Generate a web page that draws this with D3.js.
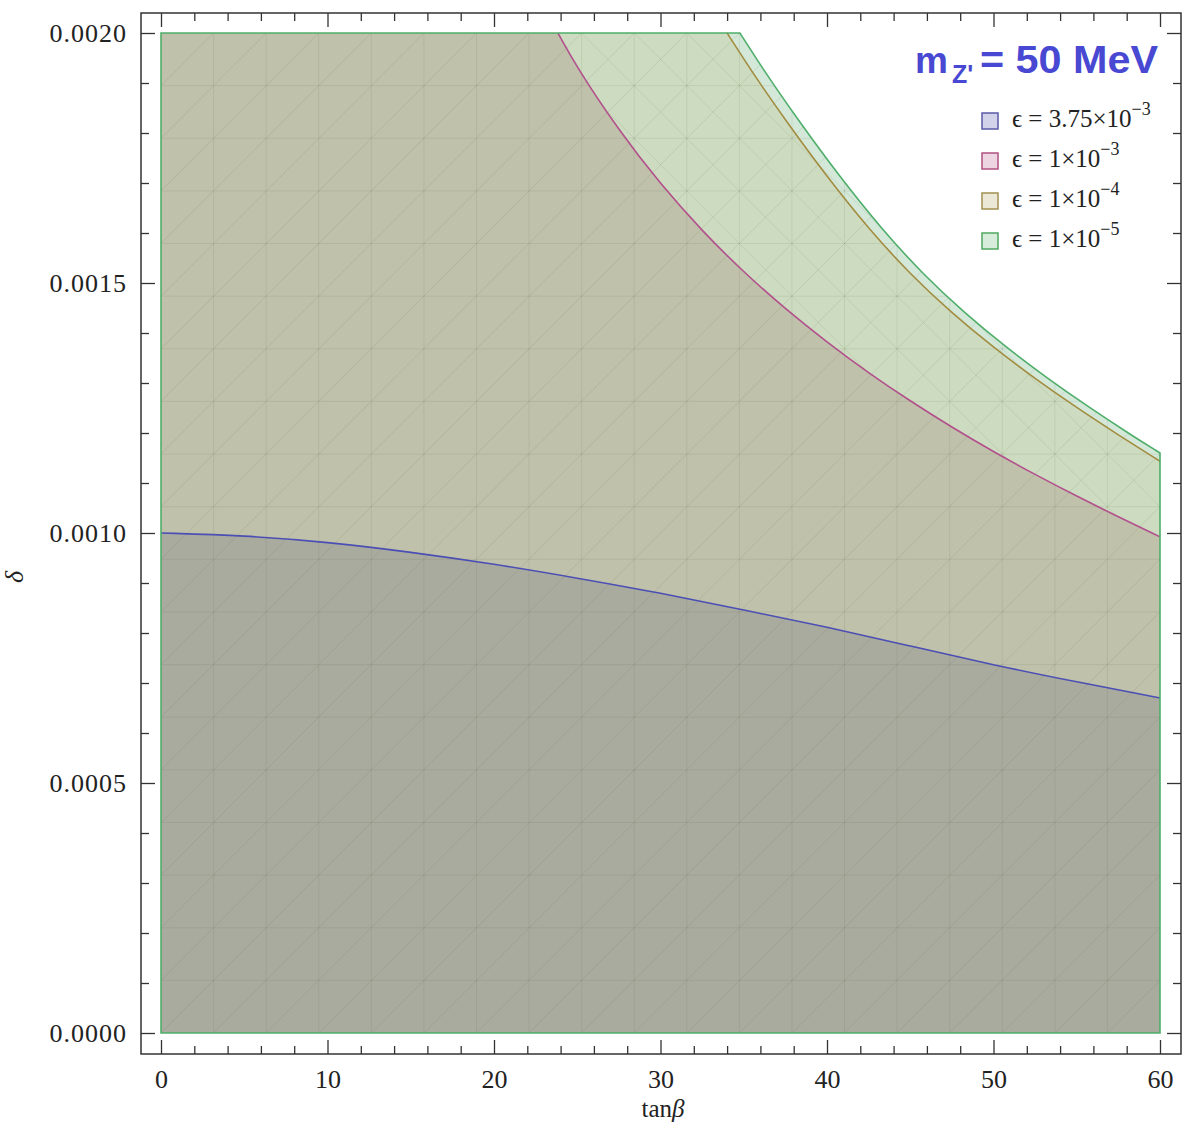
<!DOCTYPE html>
<html lang="en">
<head>
    <meta charset="UTF-8">
    <title>delta vs tan beta</title>
    <script src="https://d3js.org/d3.v7.js"></script>
    <style>
        body { margin: 0; background: #fff; }
        .tick text { font-family: "Liberation Serif", serif; font-size: 26px; fill: #222; }
        .tick line { stroke: #333; stroke-width: 1.3; }
    </style>
</head>
<body>
<script>
    // epsilon = 3.75e-3 boundary
    const tanB1 = [0, 5, 10, 15, 20, 25, 30, 35, 40, 45, 50, 55, 60];
    const delta1 = [0.001, 0.000995, 0.000982, 0.000962, 0.000938, 0.00091, 0.00088, 0.000846, 0.000812, 0.000774, 0.000736, 0.000702, 0.00067];
    // epsilon = 1e-3 boundary
    const tanB2 = [23.84, 25, 27.5, 30, 32.5, 35, 37.5, 40, 42.5, 45, 47.5, 50, 52.5, 55, 57.5, 60];
    const delta2 = [0.002, 0.00193, 0.001805, 0.0016975, 0.001604, 0.0015215, 0.001448, 0.0013815, 0.00132, 0.0012638, 0.0012113, 0.0011625, 0.0011168, 0.0010735, 0.0010323, 0.0009923];
    // epsilon = 1e-4 boundary
    const tanB3 = [34, 35, 36, 37.5, 40, 42.5, 45, 47.5, 50, 52.5, 55, 57.5, 60];
    const delta3 = [0.002, 0.001948, 0.001898, 0.001826, 0.0017123, 0.0016085, 0.0015173, 0.0014398, 0.001371, 0.0013085, 0.0012505, 0.001196, 0.0011435];
    // epsilon = 1e-5 boundary
    const tanB4 = [34.77, 35.77, 36.77, 38.27, 40.77, 43.27, 45.77, 48.27, 50.77, 53.27, 55.77, 58.27, 60];
    const delta4 = [0.002, 0.001948, 0.001898, 0.001826, 0.0017123, 0.0016085, 0.0015173, 0.0014398, 0.001371, 0.0013085, 0.0012505, 0.001196, 0.00116];

    const legendMantissa = ["3.75", "1", "1", "1"];
    const legendExp = ["\u22123", "\u22123", "\u22124", "\u22125"];
    const xTicks = [0, 10, 20, 30, 40, 50, 60];
    const yTicks = [0, 0.0005, 0.001, 0.0015, 0.002];

    const width = 1197, height = 1141;
    const fillCols = ["#aaab9f", "#c0c1ab", "#cddcc0", "#d4e8d9"];
    const lineCols = ["#4b4fb4", "#b2508c", "#a28c40", "#4fae6a"];
    const swatchFill = ["#d2d2ea", "#edd6e2", "#ece8d8", "#d8ecdc"];
    const swatchLine = ["#5a5aa8", "#b05080", "#a09050", "#50a860"];

    const svg = d3.select("body").append("svg")
        .attr("width", width)
        .attr("height", height);

    const x = d3.scaleLinear().domain([0, 60]).range([161, 1160]);
    const y = d3.scaleLinear().domain([0, 0.002]).range([1033, 33]);

    const pts = (ts, ds) => ts.map((t, i) => [t, ds[i]]);
    const curves = [pts(tanB1, delta1), pts(tanB2, delta2), pts(tanB3, delta3), pts(tanB4, delta4)];

    const line = d3.line().x(d => x(d[0])).y(d => y(d[1])).curve(d3.curveBasis);

    // region below a boundary, capped at the top of the plot
    function regionPath(c) {
        let s = "";
        if (c[0][0] > 0) s += "M" + x(0) + "," + y(0.002) + "L" + x(c[0][0]) + "," + y(c[0][1]);
        const cp = line(c);
        s += (s ? "L" + cp.slice(1) : cp);
        s += "L" + x(60) + "," + y(0) + "L" + x(0) + "," + y(0) + "Z";
        return s;
    }

    const plot = svg.append("g");

    [3, 2, 1, 0].forEach(i => {
        plot.append("path")
            .attr("d", regionPath(curves[i]))
            .attr("fill", fillCols[i]);
    });

    // mesh texture
    const defs = svg.append("defs");
    defs.append("clipPath").attr("id", "reg4")
        .append("path").attr("d", regionPath(curves[3]));
    defs.append("clipPath").attr("id", "upper")
        .append("path").attr("d", regionPath(curves[3]) + regionPath(curves[1]))
        .attr("clip-rule", "evenodd");

    const mesh = plot.append("g").attr("clip-path", "url(#reg4)");
    const mesh2 = plot.append("g").attr("clip-path", "url(#upper)");
    const n = 19;
    const gx = d3.range(n + 1).map(i => i * 60 / n);
    const gy = d3.range(n + 1).map(i => i * 0.002 / n);
    const cw = x(gx[1]) - x(gx[0]);
    gx.forEach(v => mesh.append("line")
        .attr("x1", x(v)).attr("x2", x(v)).attr("y1", y(0)).attr("y2", y(0.002))
        .attr("stroke", "rgba(70,90,50,0.1)"));
    gy.forEach(v => mesh.append("line")
        .attr("x1", x(0)).attr("x2", x(60)).attr("y1", y(v)).attr("y2", y(v))
        .attr("stroke", "rgba(70,90,50,0.1)"));
    d3.range(-n, n + 1).forEach(k => {
        mesh.append("line")
            .attr("x1", x(0) + k * cw).attr("y1", y(0))
            .attr("x2", x(0) + (k + n) * cw).attr("y2", y(0.002))
            .attr("stroke", "rgba(70,90,50,0.12)");
        mesh2.append("line")
            .attr("x1", x(0) + k * cw).attr("y1", y(0.002))
            .attr("x2", x(0) + (k + n) * cw).attr("y2", y(0))
            .attr("stroke", "rgba(70,90,50,0.1)");
    });

    // boundaries
    [0, 1, 2].forEach(i => {
        plot.append("path")
            .attr("d", line(curves[i]))
            .attr("fill", "none")
            .attr("stroke", lineCols[i])
            .attr("stroke-width", 1.6);
    });
    plot.append("path")
        .attr("d", regionPath(curves[3]))
        .attr("fill", "none")
        .attr("stroke", lineCols[3])
        .attr("stroke-width", 1.6);

    // frame and ticks
    const minorX = d3.range(0, 61, 2).filter(v => v % 10 !== 0);
    const minorY = d3.range(0, 21).map(v => v * 0.0001).filter((v, i) => i % 5 !== 0);

    const axes = [
        { f: d3.axisBottom, t: "translate(0,1054)", s: x, lab: true, vals: xTicks, minor: minorX, fmt: d3.format("d"), pad: 16 },
        { f: d3.axisTop, t: "translate(0,13)", s: x, lab: false, vals: xTicks, minor: minorX, pad: 3 },
        { f: d3.axisLeft, t: "translate(141,0)", s: y, lab: true, vals: yTicks, minor: minorY, fmt: d3.format(".4f"), pad: 14 },
        { f: d3.axisRight, t: "translate(1181,0)", s: y, lab: false, vals: yTicks, minor: minorY, pad: 3 }
    ];
    axes.forEach(a => {
        const g1 = svg.append("g").attr("transform", a.t)
            .call(a.f(a.s).tickValues(a.vals).tickSize(-14).tickPadding(a.pad)
                .tickFormat(a.lab ? a.fmt : ""));
        g1.select(".domain").remove();
        g1.selectAll(".tick text").attr("font-family", null).attr("font-size", null);
        if (a.f === d3.axisLeft) g1.selectAll(".tick text").attr("letter-spacing", "1px");
        const g2 = svg.append("g").attr("transform", a.t)
            .call(a.f(a.s).tickValues(a.minor).tickSize(-8).tickFormat(""));
        g2.select(".domain").remove();
    });

    svg.append("rect")
        .attr("x", 141).attr("y", 13).attr("width", 1040).attr("height", 1041)
        .attr("fill", "none").attr("stroke", "#333").attr("stroke-width", 1.5);

    // axis titles
    const xl = svg.append("text")
        .attr("x", 663).attr("y", 1117)
        .attr("text-anchor", "middle")
        .attr("font-family", "Liberation Serif, serif").attr("font-size", 25).attr("fill", "#222");
    xl.append("tspan").text("tan");
    xl.append("tspan").attr("font-style", "italic").text("\u03B2");

    svg.append("text")
        .attr("transform", "translate(23,577) rotate(-90)")
        .attr("text-anchor", "middle")
        .attr("font-family", "Liberation Serif, serif").attr("font-size", 26)
        .attr("font-style", "italic").attr("fill", "#222")
        .text("\u03B4");

    // title
    const titleCol = "#4848d2";
    const sans = "Liberation Sans, Arial, sans-serif";
    svg.append("text").attr("x", 915).attr("y", 73)
        .attr("font-family", sans).attr("font-weight", "bold")
        .attr("font-size", 37).attr("fill", titleCol).text("m");
    svg.append("text").attr("x", 952).attr("y", 83)
        .attr("font-family", sans).attr("font-weight", "bold")
        .attr("font-size", 25).attr("fill", titleCol).text("Z'");
    svg.append("text").attr("x", 980).attr("y", 73)
        .attr("font-family", sans).attr("font-weight", "bold")
        .attr("font-size", 39).attr("fill", titleCol)
        .attr("textLength", 178).attr("lengthAdjust", "spacingAndGlyphs")
        .text("= 50 MeV");

    // legend
    const leg = svg.append("g");
    legendMantissa.forEach((m, i) => {
        const by = 127 + i * 40;
        leg.append("rect")
            .attr("x", 982).attr("y", by - 14).attr("width", 16).attr("height", 16)
            .attr("fill", swatchFill[i]).attr("stroke", swatchLine[i]).attr("stroke-width", 1.5);
        const t = leg.append("text")
            .attr("x", 1012).attr("y", by)
            .attr("font-family", "Liberation Serif, serif").attr("font-size", 25).attr("fill", "#222");
        t.append("tspan").text("\u03F5 = " + m + "\u00D710");
        t.append("tspan").attr("font-size", 18).attr("dy", -12).text(legendExp[i]);
    });
</script>
</body>
</html>
